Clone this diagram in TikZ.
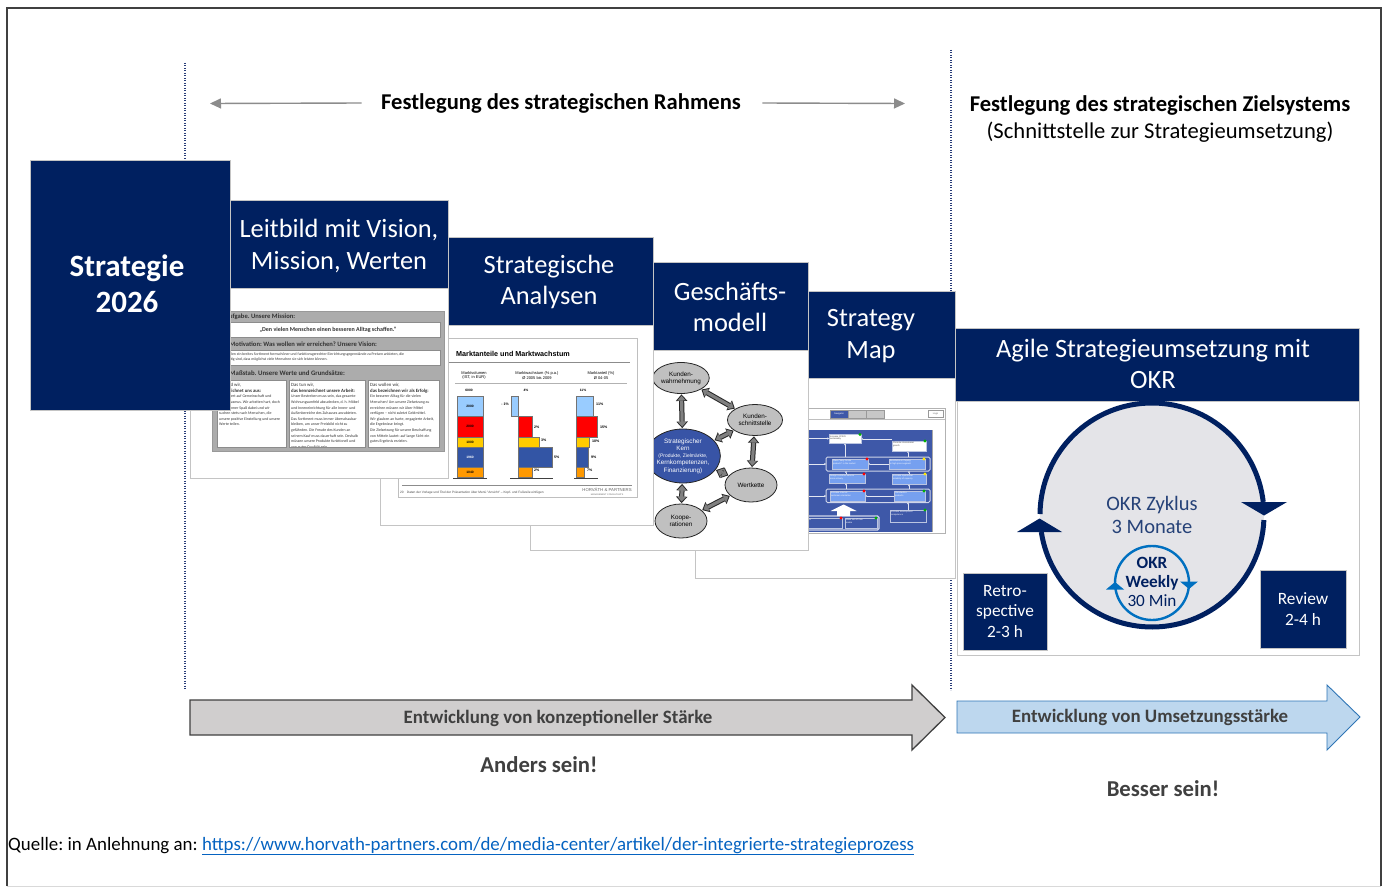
\documentclass[tikz,border=0pt]{standalone}
\usepackage{fontspec}
\setmainfont{Carlito}
\newfontfamily\arialf{Liberation Sans}
\usetikzlibrary{arrows.meta,shapes.geometric,calc}
\frenchspacing

\definecolor{navy}{RGB}{0,32,96}
\definecolor{cardline}{RGB}{196,196,196}
\definecolor{okrfill}{RGB}{228,228,232}
\definecolor{okrblue}{RGB}{0,112,192}
\definecolor{darktext}{RGB}{64,64,64}
\definecolor{arrowgray}{RGB}{208,206,206}
\definecolor{paleblue}{RGB}{189,215,238}
\definecolor{paleedge}{RGB}{46,117,182}
\definecolor{dotblue}{RGB}{40,60,120}
\definecolor{linkblue}{RGB}{5,99,193}
\definecolor{barlight}{RGB}{153,204,255}
\definecolor{barred}{RGB}{255,0,0}
\definecolor{baryellow}{RGB}{255,204,0}
\definecolor{barblue}{RGB}{51,85,165}
\definecolor{barorange}{RGB}{255,153,0}
\definecolor{mapblue}{RGB}{62,88,168}
\definecolor{mapbox}{RGB}{118,160,240}
\definecolor{netgray}{RGB}{192,192,192}
\definecolor{arrowmid}{RGB}{128,128,128}
\definecolor{kernblue}{RGB}{56,84,166}
\definecolor{thumbgray}{RGB}{172,172,172}

\newcommand\fs[2]{\fontsize{#1}{#2}\selectfont}

% double-headed block arrow of the business model network
\newcommand\netlink[2]{%
  \draw[line width=5.2pt, draw=black!85,
    {Triangle[width=11.5pt,length=6.5pt,line width=0pt]}-{Triangle[width=11.5pt,length=6.5pt,line width=0pt]},
    shorten <=0.5pt, shorten >=0.5pt] (#1) -- (#2);
  \draw[line width=3.2pt, draw=arrowmid,
    {Triangle[width=8.5pt,length=4.6pt,line width=0pt]}-{Triangle[width=8.5pt,length=4.6pt,line width=0pt]},
    shorten <=2pt, shorten >=2pt] (#1) -- (#2);}

% small objective box of the strategy map
\newcommand\smapbox[9]{%
  \draw[fill=#6, draw=white!65!mapblue, line width=0.4pt] (#2,#3) rectangle (#4,#5);
  \node[anchor=north west, inner sep=0.8pt, align=left, text=#7,
        font=\arialf\fs{2.2}{2.7}] (#1) at (#2,#3) {#9};
  \fill[#8] (#4-1,#3) circle (1.7);}

\begin{document}
\begin{tikzpicture}[x=1pt,y=-1pt,
  navyblock/.style={fill=navy, draw=cardline, line width=0.8pt},
  cardbody/.style={fill=white, draw=cardline, line width=0.9pt},
  hdr/.style={text=white, font=\fs{26.4}{31.5}, align=center, inner sep=0pt},
  dotline/.style={draw=dotblue, line width=1.1pt, dash pattern=on 0.9pt off 1.6pt},
  toparrow/.style={draw=black!45, line width=1.4pt, -{Triangle[width=10pt,length=11pt]}},
  bar/.style={draw=black!55, line width=0.3pt},
  barlbl/.style={inner sep=0pt, font=\arialf\bfseries\fs{3.3}{4}},
  pctlbl/.style={inner sep=0pt, anchor=west, font=\arialf\bfseries\fs{3.6}{4}},
  netell/.style={ellipse, draw=black!85, line width=0.8pt, fill=netgray, inner sep=0pt,
                 align=center, font=\arialf\fs{6.3}{7.2}},
  mapline/.style={draw=white!85!mapblue, line width=0.5pt, -{Triangle[width=2pt,length=1.6pt]}},
  lbtext/.style={anchor=north west, inner sep=0pt, align=left, text=black!80},
  smallbox/.style={fill=navy, draw=cardline, line width=0.6pt, text=white,
                   font=\fs{17.3}{20.5}, align=center, inner sep=0pt}
]
\useasboundingbox (0,0) rectangle (1386,888);
\fill[white] (0,0) rectangle (1386,888);

% outer frame
\draw[line width=2.2pt, black!75] (7,886) -- (7,8) -- (1381,8) -- (1381,886);
\draw[line width=1pt, black!15] (7,886) -- (1381,886);

% dotted phase separators
\coordinate (sepAtop) at (185,63);
\coordinate (sepAbot) at (185,690);
\coordinate (sepBtop) at (951,50);
\coordinate (sepBbot) at (951,690);
\draw[dotline] (sepAtop) -- (sepAbot);
\draw[dotline] (sepBtop) -- (sepBbot);

% phase headings
\node[font=\bfseries\fs{22.6}{26}, text=black] (rahmen) at (561,103) {Festlegung des strategischen Rahmens};
\coordinate (rahmenL) at (210,103.5);
\coordinate (rahmenR) at (905,103.5);
\draw[toparrow] ([xshift=-16pt]rahmen.west) -- (rahmenL);
\draw[toparrow] ([xshift=18pt]rahmen.east) -- (rahmenR);

\node[font=\bfseries\fs{22.6}{26}, text=black] (ziel) at (1160,105) {Festlegung des strategischen Zielsystems};
\node[font=\fs{22.6}{26}, text=black] (schnitt) at (1160,132) {(Schnittstelle zur Strategieumsetzung)};

% ================= OKR card =================
\draw[cardbody] (957,401) rectangle (1359,655);
\draw[navyblock] (955,328) rectangle (1359,401);
\node[hdr] (okrhead) at (1153,364) {Agile Strategieumsetzung mit\\OKR};

\node[circle, fill=okrfill, minimum size=224pt, inner sep=0pt] (zyk) at (1152,515) {};
\draw[navy, line width=5pt] ($(zyk.center)+(180.5:112)$) arc[start angle=180.5, end angle=353.3, radius=112];
\draw[navy, line width=5pt] ($(zyk.center)+(2.6:112)$) arc[start angle=2.6, end angle=171.3, radius=112];
\fill[navy] (1241,502) -- (1287,502) -- (1264,515.5) -- cycle;
\fill[navy] (1017,532) -- (1062,532) -- (1039.5,518.5) -- cycle;
\node[align=center, text=navy!85, font=\fs{20.5}{23}, inner sep=0pt] (zyktxt) at (1152,514.5) {OKR Zyklus\\3 Monate};

\node[circle, draw=okrblue, line width=2.4pt, minimum size=74pt, inner sep=0pt] (weekly) at (1152,583) {};
\fill[okrblue] (1106,589.5) -- (1124,589.5) -- (1115,582) -- cycle;
\fill[okrblue] (1180,581.5) -- (1198,581.5) -- (1189,589) -- cycle;
\node[align=center, text=navy, font=\fs{17.2}{19}, inner sep=0pt] (weeklytxt) at (1152,581.5)
  {\textbf{OKR}\\\textbf{Weekly}\\30 Min};

\node[smallbox, minimum width=84pt, minimum height=77pt] (retro) at (1005,611.5) {Retro-\\spective\\2-3 h};
\node[smallbox, minimum width=86pt, minimum height=78pt] (review) at (1303,609) {Review\\2-4 h};

% ================= Strategy Map card =================
\draw[cardbody] (695,378) rectangle (955,578);
\draw[navyblock] (808,291) rectangle (955,378);
\node[hdr] (smhead) at (871,336) {Strategy\\Map};

\draw[fill=white, draw=black!30, line width=0.5pt] (760,408) rectangle (945,533);
\draw[black!25, line width=0.4pt] (760,419.5) -- (945,419.5);
\draw[fill=mapblue, draw=black!40, line width=0.3pt] (830,410) rectangle (848,418);
\node[inner sep=0pt, text=white, font=\arialf\fs{2.3}{2.7}] (btnnav) at (839,414) {Navigator};
\draw[fill=black!22, draw=black!40, line width=0.3pt] (848,410) rectangle (866,418);
\draw[fill=black!22, draw=black!40, line width=0.3pt] (866,410) rectangle (884,418);
\draw[fill=white, draw=black!40, line width=0.3pt] (928,410) rectangle (943,417.5);
\node[inner sep=0pt, text=black!60, font=\arialf\fs{2.4}{2.8}] (btnlogo) at (935.5,413.8) {Logo};

\fill[mapblue] (760,430) rectangle (932,532);
\draw[black!35, line width=0.4pt] (932,430) -- (932,532);
% groups of objectives
\draw[white!75!mapblue, line width=1pt, rounded corners=1.5pt] (826,457) rectangle (930,471);
\draw[white!75!mapblue, line width=1pt, rounded corners=1.5pt] (826,489) rectangle (930,502.5);
\draw[white!75!mapblue, line width=1.2pt, rounded corners=1.5pt] (790,516) rectangle (879,530);
% cause-and-effect links
\draw[mapline] (790,438.5) -- (829,438.5);
\draw[mapline] (790,464) -- (826,464);
\draw[mapline] (790,496) -- (826,496);
\draw[mapline] (892,439) -- (861,439);
\draw[mapline] (889,464) -- (868,464);
\draw[mapline] (894,496) -- (865,496);
\draw[mapline] (845,457) -- (845,443.5);
\draw[mapline] (908,457) -- (908,451);
\draw[mapline] (846,474) -- (846,471);
\draw[mapline] (909,474) -- (909,471);
\draw[mapline] (846,489) -- (846,483.5);
\draw[mapline] (909,489) -- (909,484.5);
\draw[mapline] (908,510) -- (908,502.5);
\fill[white] (837,516) -- (837,511) -- (830.5,511) -- (843.5,504.5) -- (856.5,511) -- (850,511) -- (850,516) -- cycle;

\smapbox{mA}{829}{434.5}{861}{443.5}{white}{black!70}{green!70!black}{Increase CFROI\\sustainably}
\smapbox{mB}{892}{441}{926}{451}{white}{black!70}{green!70!black}{Promote international\\growth}
\smapbox{mC}{832}{459}{868}{469}{mapbox}{white}{red}{Place "easy to use\\products" in the market}
\smapbox{mD}{889}{459}{925}{469}{mapbox}{white}{yellow!90!orange}{Excellence in Coping\\in high price segment}
\smapbox{mE}{829}{474}{865}{483.5}{mapbox}{white}{red}{Design customer service\\more actively}
\smapbox{mF}{892}{474}{926}{484.5}{mapbox}{white}{yellow!90!orange}{Increase operational\\reliability of capacity}
\smapbox{mG}{830}{491}{865}{501}{mapbox}{white}{red}{Increase internal\\customer orientation}
\smapbox{mH}{894}{491}{925}{501}{mapbox}{white}{green!70!black}{Standardize\\products}
\smapbox{mI}{791}{518}{842}{528}{mapblue}{white}{red}{Increase motivation\\of employees}
\smapbox{mJ}{845}{518}{877}{528}{mapblue}{white}{green!70!black}{Make use of new\\media}
\smapbox{mK}{890}{510}{926}{522}{mapblue}{white}{green!70!black}{Increase development\\competence}

% ================= Business model card =================
\draw[cardbody] (530,350) rectangle (808,550);
\draw[navyblock] (653,262) rectangle (808,350);
\node[hdr] (gmhead) at (730,307) {Geschäfts-\\modell};

\node[netell, minimum width=48pt, minimum height=31pt] (kw) at (681,378) {Kunden-\\wahrnehmung};
\node[netell, minimum width=55pt, minimum height=31pt] (ks) at (755,420) {Kunden-\\schnittstelle};
\node[netell, minimum width=58pt, minimum height=54pt, fill=kernblue, text=white] (sk) at (683,456)
  {\fs{6.4}{7}Strategischer\\Kern\\\fs{5}{5.8}(Produkte, Zielmärkte,\\Kernkompetenzen,\\Finanzierung)};
\node[netell, minimum width=52pt, minimum height=34pt] (wk) at (751,485) {Wertkette};
\node[netell, minimum width=52pt, minimum height=34pt] (ko) at (681,521) {Koope-\\rationen};
\netlink{kw}{sk}
\netlink{kw}{ks}
\netlink{ks}{sk}
\netlink{ks}{wk}
\netlink{sk}{wk}
\netlink{sk}{ko}
\netlink{ko}{wk}

% ================= Analyses card =================
\draw[cardbody] (380,325) rectangle (653,525);
\draw[navyblock] (448,237) rectangle (653,325);
\node[hdr] (anhead) at (549,282) {Strategische\\Analysen};

\draw[fill=white, draw=black!25, line width=0.6pt] (398,338) rectangle (637,497);
\node[anchor=west, inner sep=0pt, font=\arialf\bfseries\fs{7.2}{8}] (ctitle) at (456,354) {Marktanteile und Marktwachstum};
\draw[black!45, line width=0.5pt] (447,362) -- (630,362);
\node[align=center, inner sep=0pt, font=\arialf\fs{4}{4.8}] (chA) at (474,375.5) {Marktvolumen\\(IST, in EUR)};
\node[align=center, inner sep=0pt, font=\arialf\fs{4}{4.8}] (chB) at (537,375.5) {Marktwachstum (\% p.a.)\\Ø 2005 bis 2009};
\node[align=center, inner sep=0pt, font=\arialf\fs{4}{4.8}] (chC) at (601,375.5) {Marktanteil (\%)\\Ø 04-05};
\draw[black!30, line width=0.4pt] (455,383) -- (627,383);
\node[barlbl] (topA) at (469,390) {6000};
\node[barlbl] (topB) at (526,390) {4\%};
\node[barlbl] (topC) at (583,390) {11\%};
% market volume
\draw[bar, fill=barlight] (457,396) rectangle (483,416);
\draw[bar, fill=barred] (457,416) rectangle (483,437);
\draw[bar, fill=baryellow] (457,437) rectangle (483,447);
\draw[bar, fill=barblue] (457,447) rectangle (483,467);
\draw[bar, fill=barorange] (457,467) rectangle (483,477);
\draw[black!75, line width=0.6pt] (453,478) -- (487,478);
\node[barlbl] (vA1) at (470,406) {2000};
\node[barlbl] (vA2) at (470,426.5) {2000};
\node[barlbl] (vA3) at (470,442) {1000};
\node[barlbl, text=white] (vA4) at (470,457) {1960};
\node[barlbl] (vA5) at (470,472) {1040};
% market growth
\draw[bar, fill=barlight] (511,396) rectangle (518,416);
\draw[bar, fill=barred] (518,416) rectangle (532,437);
\draw[bar, fill=baryellow] (518,437) rectangle (539,447);
\draw[bar, fill=barblue] (518,447) rectangle (552,467);
\draw[bar, fill=barorange] (518,467) rectangle (532,477);
\draw[black!75, line width=0.6pt] (510,478) -- (553,478);
\node[pctlbl, anchor=east] (vB1) at (509,404) {- 1\%};
\node[pctlbl] (vB2) at (534,427) {2\%};
\node[pctlbl] (vB3) at (541,440) {3\%};
\node[pctlbl] (vB4) at (554,457) {5\%};
\node[pctlbl] (vB5) at (534,470.5) {2\%};
% market share
\draw[bar, fill=barlight] (576,396) rectangle (593,416);
\draw[bar, fill=barred] (576,416) rectangle (597,437);
\draw[bar, fill=baryellow] (576,437) rectangle (589,447);
\draw[bar, fill=barblue] (576,447) rectangle (588,467);
\draw[bar, fill=barorange] (576,467) rectangle (584,477);
\draw[black!75, line width=0.6pt] (574,478) -- (598,478);
\node[pctlbl] (vC1) at (596,404) {11\%};
\node[pctlbl] (vC2) at (600,427) {15\%};
\node[pctlbl] (vC3) at (592,441) {10\%};
\node[pctlbl] (vC4) at (591,457) {9\%};
\node[pctlbl] (vC5) at (587,470.5) {7\%};
% slide footer
\draw[black!45, line width=0.5pt] (402,485) -- (632,485);
\node[anchor=west, inner sep=0pt, font=\arialf\fs{3.2}{4}, text=black!70] (cfoot) at (400,492.5)
  {20\quad Daten der Vorlage und Titel der Präsentation über Menü "Ansicht" – Kopf- und Fußzeile einfügen};
\node[inner sep=0pt, font=\arialf\fs{4.3}{5}, text=black!60] (hp) at (607,489.5) {HORVÁTH \& PARTNERS};
\node[inner sep=0pt, font=\arialf\fs{2.2}{3}, text=black!60] (hpmc) at (607,494.5) {MANAGEMENT CONSULTANTS};

% ================= Mission statement card =================
\draw[cardbody] (190,288) rectangle (448,478);
\draw[navyblock] (230,200) rectangle (448,288);
\node[hdr] (lbhead) at (339,246) {Leitbild mit Vision,\\Mission, Werten};

\draw[fill=thumbgray, draw=black!40, line width=0.5pt] (212,311) rectangle (444,451);
\node[lbtext, anchor=west, font=\bfseries\fs{6.6}{7}] (lbA) at (225,316.5) {Aufgabe. Unsere Mission:};
\draw[fill=white, draw=black!45, line width=0.4pt] (216,322) rectangle (440,337);
\node[inner sep=0pt, font=\bfseries\fs{6}{7}, text=black!80] (lbAtxt) at (328,329.5)
  {„Den vielen Menschen einen besseren Alltag schaffen.“};
\node[lbtext, anchor=west, font=\bfseries\fs{6.6}{7}] (lbB) at (229.5,344) {Motivation: Was wollen wir erreichen? Unsere Vision:};
\draw[fill=white, draw=black!45, line width=0.4pt] (216,350) rectangle (440,365);
\node[lbtext, font=\fs{3.8}{5}] (lbBtxt) at (219,352.5)
  {Wir wollen ein breites Sortiment formschöner und funktionsgerechter Einrichtungsgegenstände zu Preisen anbieten, die\\
   so günstig sind, dass möglichst viele Menschen sie sich leisten können.};
\node[lbtext, anchor=west, font=\bfseries\fs{6.8}{7}] (lbC) at (229.5,373) {Maßstab. Unsere Werte und Grundsätze:};
\draw[fill=white, draw=black!45, line width=0.4pt] (217,380) rectangle (286,447);
\draw[fill=white, draw=black!45, line width=0.4pt] (289,380) rectangle (365,447);
\draw[fill=white, draw=black!45, line width=0.4pt] (368,380) rectangle (439,447);
\begin{scope}
  \clip (217,380) rectangle (439,446.5);
  \node[lbtext, font=\fs{4.8}{6.3}] (lbC1h) at (219,382.5) {So sind wir,\\\textbf{das zeichnet uns aus:}};
  \node[lbtext, font=\fs{3.9}{5.6}] (lbC1) at (219,395)
    {Sie basiert auf Gemeinschaft und\\Enthusiasmus. Wir arbeiten hart, doch\\es ist immer Spaß dabei und wir\\
     suchen stets nach Menschen, die\\unsere positive Einstellung und unsere\\Werte teilen.};
  \node[lbtext, font=\fs{4.8}{6.3}] (lbC2h) at (291,382.5) {Das tun wir,\\\textbf{das kennzeichnet unsere Arbeit:}};
  \node[lbtext, font=\fs{3.9}{5.6}] (lbC2) at (291,395)
    {Unser Bestreben muss sein, das gesamte\\Wohnungsumfeld abzudecken, d. h. Möbel\\und Inneneinrichtung für alle Innen- und\\
     Außenbereiche des Zuhauses anzubieten.\\Das Sortiment muss immer überschaubar\\bleiben, um unser Preisbild nicht zu\\
     gefährden. Die Freude des Kunden an\\seinem Kauf muss dauerhaft sein. Deshalb\\müssen unsere Produkte funktionell und\\
     von guter Qualität sein.};
  \node[lbtext, font=\fs{4.8}{6.3}] (lbC3h) at (370,382.5) {Das wollen wir,\\\textbf{das bezeichnen wir als Erfolg:}};
  \node[lbtext, font=\fs{3.9}{5.6}] (lbC3) at (370,395)
    {Ein besserer Alltag für die vielen\\Menschen! Um unsere Zielsetzung zu\\erreichen müssen wir über Mittel\\
     verfügen – nicht zuletzt Geldmittel.\\Wir glauben an harte, engagierte Arbeit,\\die Ergebnisse bringt.\\
     Die Zielsetzung für unsere Beschaffung\\von Mitteln lautet: auf lange Sicht ein\\gutes Ergebnis erzielen.};
\end{scope}

% ================= Strategy box =================
\draw[navyblock] (30,160) rectangle (230,410);
\node[align=center, text=white, font=\bfseries\fs{31}{36}, inner sep=0pt] (strat) at (127,284) {Strategie\\2026};

% ================= development arrows =================
\draw[fill=arrowgray, draw=black!75, line width=1.3pt]
  (190,700) -- (912,700) -- (912,685) -- (945,717.5) -- (912,750) -- (912,735) -- (190,735) -- cycle;
\node[font=\bfseries\fs{18.9}{22}, text=darktext] (konz) at (558,718) {Entwicklung von konzeptioneller Stärke};

\draw[fill=paleblue, draw=paleedge, line width=0.9pt]
  (957,701) -- (1327,701) -- (1327,685) -- (1360,717) -- (1327,750) -- (1327,733) -- (957,733) -- cycle;
\node[font=\bfseries\fs{18.9}{22}, text=darktext] (umsetz) at (1150,717) {Entwicklung von Umsetzungsstärke};

\node[font=\bfseries\fs{22.7}{26}, text=darktext] (anders) at (539,765) {Anders sein!};
\node[font=\bfseries\fs{22.7}{26}, text=darktext] (besser) at (1163,789) {Besser sein!};

% source
\node[anchor=base west, inner sep=0pt, font=\fs{18.9}{22}, text=black] (quelle) at (8,850)
  {Quelle: in Anlehnung an: \textcolor{linkblue}{\underline{https://www.horvath-partners.com/de/media-center/artikel/der-integrierte-strategieprozess}}};
\end{tikzpicture}
\end{document}
